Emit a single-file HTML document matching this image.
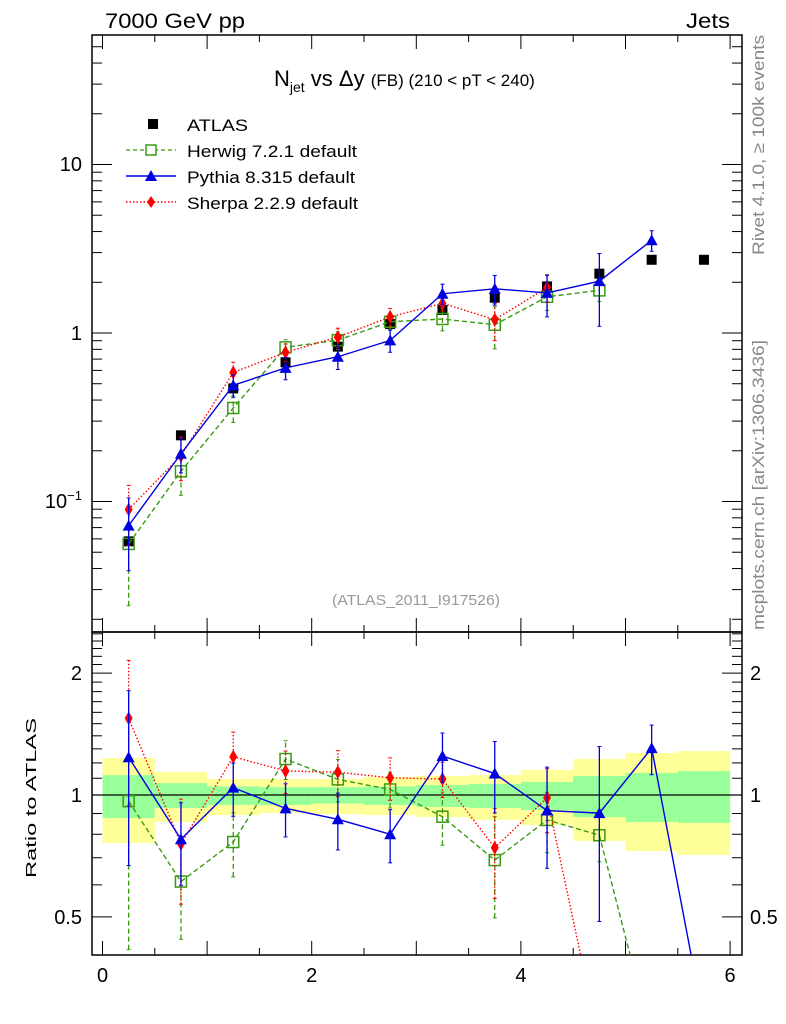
<!DOCTYPE html>
<html><head><meta charset="utf-8"><style>
html,body{margin:0;padding:0;background:#fff;}
svg{display:block;font-family:"Liberation Sans",sans-serif;}
</style></head><body>
<svg id="chart" width="786" height="1024" viewBox="0 0 786 1024" xmlns="http://www.w3.org/2000/svg">
<defs>
<clipPath id="clipMain"><rect x="92" y="35" width="650" height="597"/></clipPath>
<clipPath id="clipRatio"><rect x="92" y="632" width="650" height="323"/></clipPath>
</defs>
<text x="105" y="28" font-size="21" textLength="140" lengthAdjust="spacingAndGlyphs">7000 GeV pp</text>
<text x="686" y="28" font-size="21" textLength="44" lengthAdjust="spacingAndGlyphs">Jets</text>
<text transform="translate(764,255) rotate(-90)" font-size="17" fill="#888" textLength="220" lengthAdjust="spacingAndGlyphs">Rivet 4.1.0, ≥ 100k events</text>
<text transform="translate(764,630) rotate(-90)" font-size="17" fill="#888" textLength="290" lengthAdjust="spacingAndGlyphs">mcplots.cern.ch [arXiv:1306.3436]</text>
<text x="274" y="86" font-size="22">N<tspan font-size="14" dy="6">jet</tspan><tspan dy="-6"> vs Δy </tspan><tspan font-size="17">(FB) (210 &lt; pT &lt; 240)</tspan></text>
<text x="332" y="605" font-size="15" fill="#999" textLength="168" lengthAdjust="spacingAndGlyphs">(ATLAS_2011_I917526)</text>
<text transform="translate(36,878) rotate(-90)" font-size="15" textLength="160" lengthAdjust="spacingAndGlyphs">Ratio to ATLAS</text>
<g id="legend">
<g><rect x="148" y="119" width="10" height="10" fill="#000"/><text x="187" y="131" font-size="17" textLength="61" lengthAdjust="spacingAndGlyphs">ATLAS</text></g>
<g><line x1="126" y1="150" x2="176" y2="150" stroke="#3a9a12" stroke-width="1.2" stroke-dasharray="4,3"/><rect x="146" y="145" width="10" height="10" fill="#fff" stroke="#3a9a12" stroke-width="1.5"/><text x="187" y="157" font-size="17" textLength="170" lengthAdjust="spacingAndGlyphs">Herwig 7.2.1 default</text></g>
<g><line x1="126" y1="176" x2="176" y2="176" stroke="#0000e0" stroke-width="1.4"/><polygon points="151,170 157,181 145,181" fill="#0000e0"/><text x="187" y="183" font-size="17" textLength="168" lengthAdjust="spacingAndGlyphs">Pythia 8.315 default</text></g>
<g><line x1="126" y1="202" x2="176" y2="202" stroke="#f00" stroke-width="1.4" stroke-dasharray="1.5,2"/><polygon points="151,196 155,202 151,208 147,202" fill="#f00"/><text x="187" y="209" font-size="17" textLength="171" lengthAdjust="spacingAndGlyphs">Sherpa 2.2.9 default</text></g>
</g>
</svg>
<script>
const xCenters=[0.25,0.75,1.25,1.75,2.25,2.75,3.25,3.75,4.25,4.75,5.25,5.75];
const atlasValues=[0.058,0.247,0.469,0.67,0.83,1.13,1.37,1.62,1.89,2.25,2.72,2.72];
const herwigValues=[0.056,0.151,0.359,0.822,0.907,1.166,1.211,1.119,1.64,1.79];
const herwigErr=[0.57,0.28,0.18,0.11,0.12,0.1,0.15,0.28,0.17,0.14];
const pythiaValues=[0.0719,0.192,0.489,0.621,0.723,0.904,1.71,1.83,1.73,2.03,3.55];
const pythiaErr=[0.46,0.23,0.15,0.15,0.16,0.15,0.14,0.2,0.28,0.46,0.14];
const sherpaValues=[0.0897,0.187,0.583,0.768,0.945,1.246,1.50,1.20,1.86];
const sherpaErr=[0.39,0.29,0.15,0.12,0.13,0.12,0.1,0.25,0.18];
const herwigRatioTail=0.25, sherpaRatioTail=0.245, pythiaRatioTail=0.275;
const bandYellowHi=[1.234,1.14,1.095,1.095,1.095,1.108,1.114,1.12,1.153,1.227,1.27,1.284];
const bandYellowLo=[0.761,0.858,0.892,0.903,0.897,0.892,0.882,0.868,0.843,0.77,0.727,0.711];
const bandGreenHi=[1.12,1.07,1.05,1.046,1.046,1.05,1.058,1.065,1.077,1.114,1.133,1.146];
const bandGreenLo=[0.877,0.929,0.945,0.945,0.953,0.945,0.934,0.929,0.918,0.882,0.858,0.853];
const xTickLabels=["0","2","4","6"];
const xTickValues=[0,2,4,6];
const NS="http://www.w3.org/2000/svg";
const svg=document.getElementById('chart');
const X=v=>102.5+v*104.6;
const Ym=v=>333-Math.log10(v)*168.5;
const Yr=v=>795-Math.log10(v)*405;
function el(tag,attrs,parent){const e=document.createElementNS(NS,tag);for(const k in attrs)e.setAttribute(k,attrs[k]);(parent||svg).appendChild(e);return e;}
const gb=el('g',{});


xCenters.forEach((c,i)=>{
 const r1=el('rect',{x:X(c-0.25),y:Yr(bandYellowHi[i]),width:X(0.5)-X(0),height:Yr(bandYellowLo[i])-Yr(bandYellowHi[i]),fill:'#ffff99'},gb);
 
 
 const r2=el('rect',{x:X(c-0.25),y:Yr(bandGreenHi[i]),width:X(0.5)-X(0),height:Yr(bandGreenLo[i])-Yr(bandGreenHi[i]),fill:'#99ff99'},gb);
 
 
});
const one=el('line',{x1:92,x2:742,y1:Yr(1),y2:Yr(1),stroke:'#000','stroke-width':1.3});


const f1=el('rect',{x:92,y:35,width:650,height:597,fill:'none',stroke:'#000','stroke-width':1.5});


const f2=el('rect',{x:92,y:632,width:650,height:323,fill:'none',stroke:'#000','stroke-width':1.5});


const gx=el('g',{stroke:'#000','stroke-width':1});


for(let v=0;v<=6.01;v+=0.5){const major=Math.abs(v-Math.round(v))<1e-6;const L=major?14:7;
 [[35,1],[632,-1],[632,1],[955,-1]].forEach(([y,d])=>el('line',{x1:X(v),x2:X(v),y1:y,y2:y+d*L},gx));}
xTickValues.forEach((v,i)=>{const t=el('text',{x:X(v),y:982,'font-size':20,'text-anchor':'middle'});t.textContent=xTickLabels[i];
 
 });
const gy=el('g',{stroke:'#000','stroke-width':1});


for(let d=-2;d<=1;d++)for(let m=1;m<=9;m++){const v=m*Math.pow(10,d);const y=Ym(v);if(y<35||y>632)continue;const L=m==1?20:10;
 el('line',{x1:92,x2:92+L,y1:y,y2:y},gy);el('line',{x1:742,x2:742-L,y1:y,y2:y},gy);}
const yl1=el('text',{x:82,y:171,'font-size':20,'text-anchor':'end'});yl1.textContent='10';


const yl2=el('text',{x:82,y:340,'font-size':20,'text-anchor':'end'});yl2.textContent='1';


const yl3=el('text',{x:82,y:508,'font-size':20,'text-anchor':'end'});yl3.innerHTML='10<tspan font-size="13" dy="-8">−1</tspan>';


const gr=el('g',{stroke:'#000','stroke-width':1});


for(let k=4;k<=25;k++){const v=k/10;const y=Yr(v);if(y<632||y>955)continue;const major=(k==5||k==10||k==20);const L=major?20:10;
 el('line',{x1:92,x2:92+L,y1:y,y2:y},gr);el('line',{x1:742,x2:742-L,y1:y,y2:y},gr);}
[[2,'2'],[1,'1'],[0.5,'0.5']].forEach(([v,s])=>{
 const a=el('text',{x:82,y:Yr(v)+7,'font-size':20,'text-anchor':'end'});a.textContent=s;
 
 
 const b=el('text',{x:750,y:Yr(v)+7,'font-size':20});b.textContent=s;
 
 });
function marker(type,x,y,color,g){
 if(type=='sq')return el('rect',{x:x-5,y:y-5,width:10,height:10,fill:'#000'},g);
 if(type=='osq')return el('rect',{x:x-5.5,y:y-5.5,width:11,height:11,fill:'none',stroke:color,'stroke-width':1.5},g);
 if(type=='tri')return el('polygon',{points:`${x},${y-6} ${x+6},${y+5} ${x-6},${y+5}`,fill:color},g);
 return el('polygon',{points:`${x},${y-7} ${x+4},${y} ${x},${y+7} ${x-4},${y}`,fill:color},g);
}
function series(name,vals,errs,color,dash,type,tail){
 const gm=el('g',{'clip-path':'url(#clipMain)'});
 
 
 const gq=el('g',{'clip-path':'url(#clipRatio)'});
 
 
 const ptsM=[],ptsR=[];
 vals.forEach((v,i)=>{const x=X(xCenters[i]);ptsM.push(x+','+Ym(v));ptsR.push(x+','+Yr(v/atlasValues[i]));});
 if(tail!=null)ptsR.push(X(xCenters[vals.length])+','+Yr(tail));
 const sa={fill:'none',stroke:color,'stroke-width':1.4};if(dash)sa['stroke-dasharray']=dash;
 const l1=el('polyline',Object.assign({points:ptsM.join(' ')},sa),gm);
 
 
 const l2=el('polyline',Object.assign({points:ptsR.join(' ')},sa),gq);
 
 
 vals.forEach((v,i)=>{const x=X(xCenters[i]);const e=errs[i];
  [[gm,Ym,v],[gq,Yr,v/atlasValues[i]]].forEach(([g,Y,c])=>{
   const lo=Math.max(c*(1-e),1e-4),hi=c*(1+e);
   const ea={stroke:color,'stroke-width':1.3};if(dash)ea['stroke-dasharray']=dash;
   const eb=el('line',Object.assign({x1:x,x2:x,y1:Y(lo),y2:Y(hi)},ea),g);
   
   
   el('line',{x1:x-2,x2:x+2,y1:Y(lo),y2:Y(lo),stroke:color},g);
   el('line',{x1:x-2,x2:x+2,y1:Y(hi),y2:Y(hi),stroke:color},g);
   const m=marker(type,x,Y(c),color,g);
   
   
  });});
}
const ga=el('g',{'clip-path':'url(#clipMain)'});


atlasValues.forEach((v,i)=>{const m=marker('sq',X(xCenters[i]),Ym(v),'#000',ga);
 
 });
series('herwig',herwigValues,herwigErr,'#3a9a12','5,3','osq',herwigRatioTail);
series('sherpa',sherpaValues,sherpaErr,'#f00','1.5,2','dia',sherpaRatioTail);
series('pythia',pythiaValues,pythiaErr,'#0000e0',null,'tri',pythiaRatioTail);
</script>
</body></html>
